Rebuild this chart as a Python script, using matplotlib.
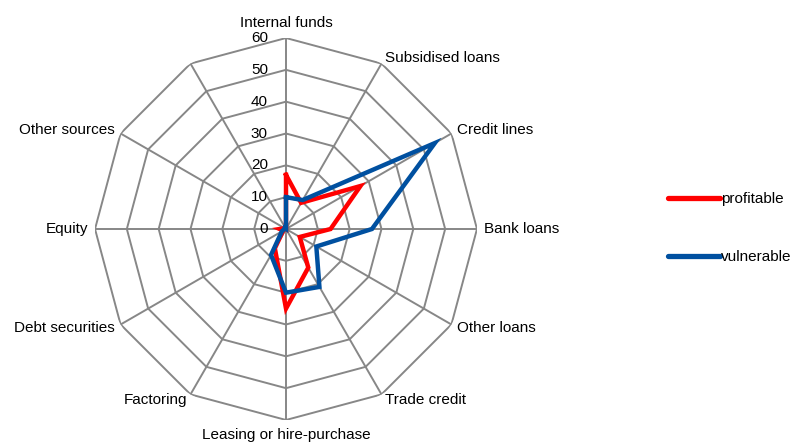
import numpy as np
import matplotlib.pyplot as plt
from matplotlib.lines import Line2D

plt.rcParams['font.family'] = ['Liberation Sans', 'DejaVu Sans']

# categories clockwise from the top (the 12th spoke has no label)
categories = ['Internal funds', 'Subsidised loans', 'Credit lines', 'Bank loans',
              'Other loans', 'Trade credit', 'Leasing or hire-purchase', 'Factoring',
              'Debt securities', 'Equity', 'Other sources', '']
profitable = [17, 9.5, 27, 14, 5, 14, 25, 7, 1, 2, 0.5, 0]
vulnerable = [10, 10.5, 54, 27, 11, 21, 20, 9.4, 1.5, 0.5, 0.5, 0]
rings = [0, 10, 20, 30, 40, 50, 60]

grid_col = '#878787'
red = '#FF0000'
blue = '#0050A0'

n = len(categories)
angles = np.arange(n) * 2 * np.pi / n
angles_c = np.append(angles, angles[0])

fig = plt.figure(figsize=(7.95, 4.43), dpi=100)
ax = fig.add_axes([95 / 795, 23 / 443, 382 / 795, 382 / 443], projection='polar')
ax.set_theta_offset(np.pi / 2)
ax.set_theta_direction(-1)
ax.set_ylim(0, 60)
ax.grid(False)
ax.spines['polar'].set_visible(False)
ax.set_xticks([])
ax.set_yticks([])

# polygon grid
for r in rings[1:]:
    ax.plot(angles_c, [r] * (n + 1), color=grid_col, lw=1.4, zorder=1)
for a in angles:
    ax.plot([a, a], [0, rings[-1]], color=grid_col, lw=1.4, zorder=1)

# data
def closed(v):
    return np.append(v, v[0])

ax.plot(angles_c, closed(profitable), color=red, lw=3.2, zorder=3, solid_joinstyle='miter')
ax.plot(angles_c, closed(vulnerable), color=blue, lw=3.2, zorder=4, solid_joinstyle='miter')

# radial tick labels along the top spoke
for r in rings:
    ax.annotate(str(r), xy=(0, r), xytext=(-13, 0), textcoords='offset points',
                ha='right', va='center', fontsize=11, color='black')

# category labels
pad = 7 * 0.72
for a, lab in zip(angles, categories):
    if not lab:
        continue
    dx = np.sin(a)
    dy = np.cos(a)
    if abs(dx) < 1e-6:
        ha = 'center'
        va = 'bottom' if dy > 0 else 'top'
        off = (0, dy * 8 * 0.72)
    else:
        ha = 'left' if dx > 0 else 'right'
        va = 'center'
        off = (dx * pad, dy * pad)
    ax.annotate(lab, xy=(a, rings[-1]), xytext=off, textcoords='offset points',
                ha=ha, va=va, fontsize=11, annotation_clip=False)

handles = [Line2D([], [], color=red, lw=3.8, solid_capstyle='round'),
           Line2D([], [], color=blue, lw=3.8, solid_capstyle='round')]
fig.legend(handles, ['profitable', 'vulnerable'], loc='center left',
           bbox_to_anchor=(654 / 795, 1 - 228 / 443), frameon=False, fontsize=11,
           handlelength=3.4, handletextpad=0.1, labelspacing=2.9)

fig.savefig('out.png', dpi=100)
